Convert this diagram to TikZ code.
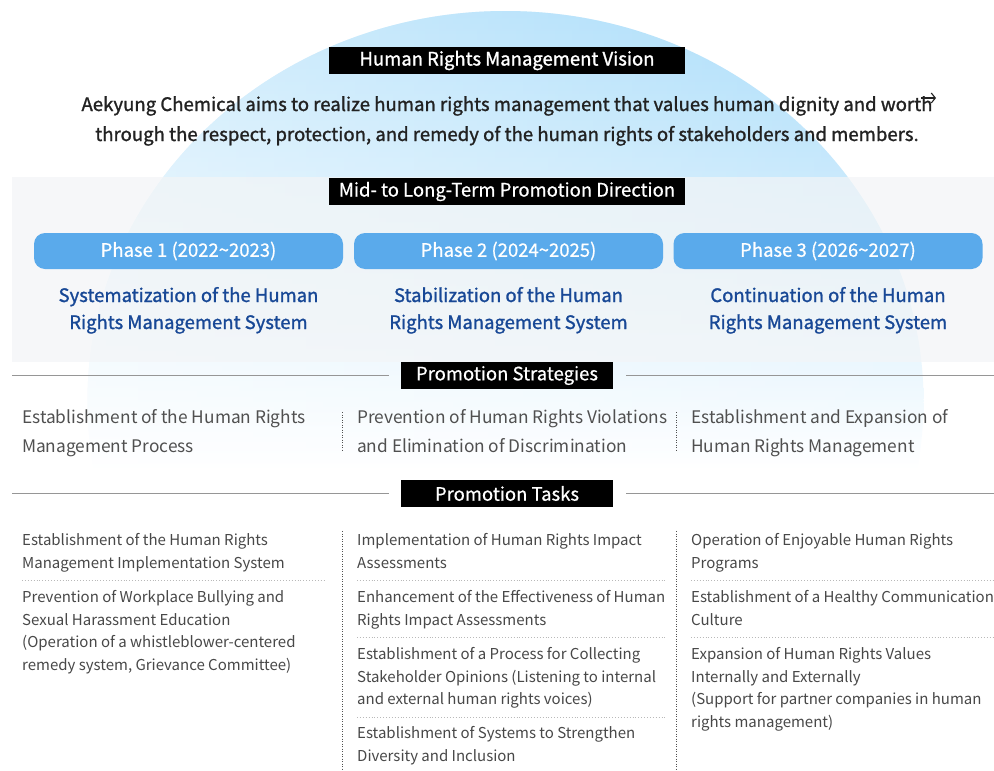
\documentclass[tikz,border=0pt]{standalone}
\usepackage{fontspec}
\usetikzlibrary{arrows.meta,fadings}
\setmainfont{Noto Sans CJK KR}
\newfontfamily\medfont{Noto Sans CJK KR}[FakeBold=1.3]
\newfontfamily\semifont{Noto Sans CJK KR}[FakeBold=0.6]
\definecolor{circtop}{RGB}{165,219,250}
\definecolor{panelgray}{RGB}{243,245,247}
\definecolor{pillblue}{RGB}{90,170,235}
\definecolor{titleblue}{RGB}{24,72,150}
\definecolor{visiontext}{RGB}{34,34,34}
\definecolor{strattext}{RGB}{80,80,80}
\definecolor{tasktext}{RGB}{72,72,72}
\definecolor{rulegray}{RGB}{150,150,150}
\definecolor{sepgray}{RGB}{80,80,80}
\definecolor{dotgray}{RGB}{185,185,185}
\tikzset{
  blackbox/.style={fill=black, text=white, minimum width=356pt, minimum height=27pt, inner sep=0pt, font=\semifont\fontsize{18.5}{20}\selectfont},
  smallbox/.style={blackbox, minimum width=212pt},
  pill/.style={fill=pillblue, text=white, rounded corners=11pt, minimum width=309pt, minimum height=36pt, inner sep=0pt, font=\semifont\fontsize{18.5}{20}\selectfont},
  phasetitle/.style={text=titleblue, align=center, inner sep=0pt, anchor=base, font=\medfont\fontsize{18.5}{27}\selectfont},
  strat/.style={text=strattext, align=left, inner sep=0pt, anchor=base west, font=\fontsize{17.3}{29}\selectfont},
  task/.style={text=tasktext, align=left, inner sep=0pt, anchor=base west, font=\fontsize{15}{22.7}\selectfont},
  rulefull/.style={draw=rulegray, line width=1pt},
  vsep/.style={draw=sepgray, line width=0.9pt, dash pattern=on 0.9pt off 1.6pt},
  hsep/.style={draw=dotgray, line width=0.8pt, dash pattern=on 0.9pt off 2pt}
}
\begin{document}
\begin{tikzpicture}[x=1pt,y=-1pt]
\useasboundingbox (0,0) rectangle (994,771);
\fill[white] (0,0) rectangle (994,771);
% background ellipse
\begin{scope}
  \clip (505.5,401) ellipse [x radius=418pt, y radius=390pt];
  \shade[top color=circtop, bottom color=white] (60,11) rectangle (950,470);
  \fill[white, path fading=east, fill opacity=0.55] (60,0) rectangle (950,470);
\end{scope}
% gray panel
\fill[panelgray, fill opacity=0.7] (12,177) rectangle (994,362);

% vision
\node[blackbox, font=\medfont\fontsize{18.5}{20}\selectfont] (vision) at (507,60.5) {Human Rights Management Vision};
\node[text=visiontext, align=center, anchor=base, inner sep=0pt, font=\medfont\fontsize{18.6}{30}\selectfont] (visiontxt) at (507,141)
 {Aekyung Chemical aims to realize human rights management that values human dignity and worth\\
  through the respect, protection, and remedy of the human rights of stakeholders and members.};
\coordinate (arA) at (921,98);
\coordinate (arB) at (936,98);
\draw[visiontext, line width=1.1pt, -{Straight Barb[length=4pt,width=10pt]}] (arA) -- (arB);

% direction
\node[blackbox] (direction) at (507,191.5) {Mid- to Long-Term Promotion Direction};
\node[pill] (p1) at (188.5,251) {Phase 1 (2022\textasciitilde 2023)};
\node[pill] (p2) at (508.5,251) {Phase 2 (2024\textasciitilde 2025)};
\node[pill] (p3) at (828,251) {Phase 3 (2026\textasciitilde 2027)};
\node[phasetitle] (t1) at (188.5,329) {Systematization of the Human\\Rights Management System};
\node[phasetitle] (t2) at (508.5,329) {Stabilization of the Human\\Rights Management System};
\node[phasetitle] (t3) at (828,329) {Continuation of the Human\\Rights Management System};

% strategies
\node[smallbox] (strategies) at (507,375.5) {Promotion Strategies};
\coordinate (sl) at (12,375.5);
\coordinate (sr) at (994,375.5);
\draw[rulefull] (sl) -- ([xshift=-12pt]strategies.west);
\draw[rulefull] ([xshift=13pt]strategies.east) -- (sr);
\node[strat] (s1) at (22,452.5) {Establishment of the Human Rights\\Management Process};
\node[strat] (s2) at (357,452.5) {Prevention of Human Rights Violations\\and Elimination of Discrimination};
\node[strat] (s3) at (691,452.5) {Establishment and Expansion of\\Human Rights Management};
\coordinate (sv1a) at (342,412); \coordinate (sv1b) at (342,451);
\coordinate (sv2a) at (676.5,412); \coordinate (sv2b) at (676.5,451);
\draw[vsep] (sv1a) -- (sv1b);
\draw[vsep] (sv2a) -- (sv2b);

% tasks
\node[smallbox] (tasks) at (507,493.5) {Promotion Tasks};
\coordinate (tl) at (12,493.5);
\coordinate (tr) at (994,493.5);
\draw[rulefull] (tl) -- ([xshift=-12pt]tasks.west);
\draw[rulefull] ([xshift=13pt]tasks.east) -- (tr);
\coordinate (tv1a) at (342,531); \coordinate (tv1b) at (342,771);
\coordinate (tv2a) at (676.5,531); \coordinate (tv2b) at (676.5,771);
\draw[vsep] (tv1a) -- (tv1b);
\draw[vsep] (tv2a) -- (tv2b);

\node[task] (a1) at (22,568.2) {Establishment of the Human Rights\\Management Implementation System};
\node[task] (a2) at (22,670.6) {Prevention of Workplace Bullying and\\Sexual Harassment Education\\(Operation of a whistleblower-centered\\remedy system, Grievance Committee)};
\coordinate (ha1a) at (22,580); \coordinate (ha1b) at (326,580);
\draw[hsep] (ha1a) -- (ha1b);

\node[task] (b1) at (357,568.2) {Implementation of Human Rights Impact\\Assessments};
\node[task] (b2) at (357,625.2) {Enhancement of the Effectiveness of Human\\Rights Impact Assessments};
\node[task] (b3) at (357,704.9) {Establishment of a Process for Collecting\\Stakeholder Opinions (Listening to internal\\and external human rights voices)};
\node[task] (b4) at (357,761.2) {Establishment of Systems to Strengthen\\Diversity and Inclusion};
\coordinate (hb1a) at (357,580); \coordinate (hb1b) at (667,580);
\coordinate (hb2a) at (357,637); \coordinate (hb2b) at (667,637);
\coordinate (hb3a) at (357,717); \coordinate (hb3b) at (667,717);
\draw[hsep] (hb1a) -- (hb1b);
\draw[hsep] (hb2a) -- (hb2b);
\draw[hsep] (hb3a) -- (hb3b);

\node[task] (c1) at (691,568.2) {Operation of Enjoyable Human Rights\\Programs};
\node[task] (c2) at (691,625.2) {Establishment of a Healthy Communication\\Culture};
\node[task] (c3) at (691,727.6) {Expansion of Human Rights Values\\Internally and Externally\\(Support for partner companies in human\\rights management)};
\coordinate (hc1a) at (691,580); \coordinate (hc1b) at (994,580);
\coordinate (hc2a) at (691,637); \coordinate (hc2b) at (994,637);
\draw[hsep] (hc1a) -- (hc1b);
\draw[hsep] (hc2a) -- (hc2b);
\end{tikzpicture}
\end{document}
